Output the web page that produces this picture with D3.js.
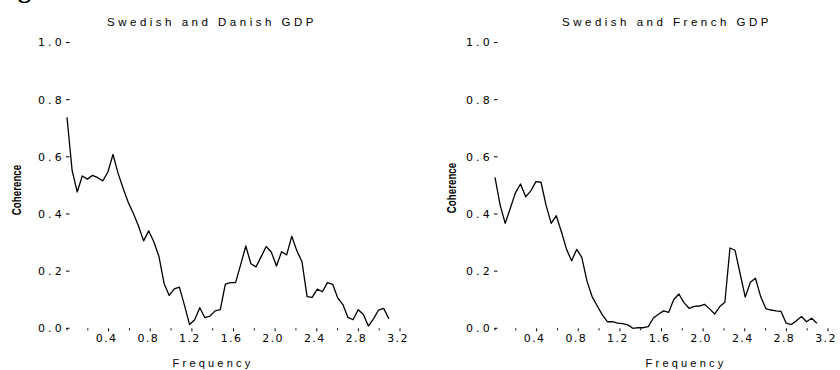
<!DOCTYPE html>
<html>
<head>
<meta charset="utf-8">
<script src="https://cdn.jsdelivr.net/npm/d3@7"></script>
<style>
  html, body { margin: 0; padding: 0; background: #fff; }
  svg { display: block; }
  .ytick-label { font-family: "DejaVu Sans", Verdana, sans-serif; font-size: 11px; letter-spacing: 3.2px; fill: #000; }
  .xtick-label { font-family: "DejaVu Sans", Verdana, sans-serif; font-size: 11px; letter-spacing: 1.4px; fill: #000; }
  .title { font-family: "Liberation Sans", Arial, sans-serif; font-size: 11.5px; letter-spacing: 3.5px; fill: #000; }
  .xlabel { font-family: "Liberation Sans", Arial, sans-serif; font-size: 11px; letter-spacing: 3.2px; fill: #000; }
  .ylabel { font-family: "Liberation Sans", Arial, sans-serif; font-size: 13px; font-weight: bold; fill: #000; }
</style>
</head>
<body>
<svg id="chart" width="840" height="370"></svg>
<script>
// Fourier frequencies (radians) at which the coherence was estimated
const frequencies = [
  0.000, 0.049, 0.098, 0.147, 0.196, 0.245, 0.295, 0.344, 0.393, 0.442,
  0.491, 0.540, 0.589, 0.638, 0.687, 0.736, 0.785, 0.834, 0.884, 0.933,
  0.982, 1.031, 1.080, 1.129, 1.178, 1.227, 1.276, 1.325, 1.374, 1.424,
  1.473, 1.522, 1.571, 1.620, 1.669, 1.718, 1.767, 1.816, 1.865, 1.914,
  1.963, 2.013, 2.062, 2.111, 2.160, 2.209, 2.258, 2.307, 2.356, 2.405,
  2.454, 2.503, 2.553, 2.602, 2.651, 2.700, 2.749, 2.798, 2.847, 2.896,
  2.945, 2.994, 3.043, 3.093
];

// Squared coherence, Swedish vs Danish GDP
const cohDanish = [
  0.738, 0.553, 0.477, 0.533, 0.522, 0.535, 0.527, 0.516, 0.547, 0.608,
  0.542, 0.489, 0.440, 0.402, 0.358, 0.306, 0.341, 0.303, 0.251, 0.157,
  0.115, 0.138, 0.144, 0.080, 0.013, 0.030, 0.072, 0.037, 0.043, 0.061,
  0.065, 0.155, 0.160, 0.160, 0.223, 0.288, 0.226, 0.215, 0.250, 0.286,
  0.267, 0.218, 0.268, 0.257, 0.322, 0.271, 0.233, 0.111, 0.108, 0.137,
  0.128, 0.160, 0.154, 0.106, 0.083, 0.038, 0.030, 0.065, 0.049, 0.008,
  0.033, 0.064, 0.070, 0.033
];

// Squared coherence, Swedish vs French GDP
const cohFrench = [
  0.528, 0.432, 0.367, 0.420, 0.474, 0.505, 0.460, 0.481, 0.513, 0.511,
  0.430, 0.367, 0.394, 0.338, 0.277, 0.236, 0.276, 0.248, 0.165, 0.111,
  0.079, 0.047, 0.023, 0.023, 0.018, 0.016, 0.012, 0.000, 0.002, 0.002,
  0.006, 0.036, 0.049, 0.061, 0.056, 0.101, 0.120, 0.090, 0.070, 0.077,
  0.078, 0.084, 0.068, 0.050, 0.076, 0.091, 0.281, 0.273, 0.190, 0.109,
  0.161, 0.175, 0.111, 0.069, 0.064, 0.061, 0.059, 0.018, 0.013, 0.026,
  0.041, 0.023, 0.035, 0.018
];

const panelTitles = ["Swedish and Danish GDP", "Swedish and French GDP"];
const yTickValues = [0.0, 0.2, 0.4, 0.6, 0.8, 1.0];
const xMinorTicks = [0.2, 0.4, 0.6, 0.8, 1.0, 1.2, 1.4, 1.6, 1.8, 2.0, 2.2, 2.4, 2.6, 2.8, 3.0, 3.2];
const xLabelTicks = [0.4, 0.8, 1.2, 1.6, 2.0, 2.4, 2.8, 3.2];
const xAxisTitle = "Frequency";
const yAxisTitle = "Coherence";

const svg = d3.select("#chart");

// fragment of a heading running off the top edge
svg.append("text")
  .attr("x", 18).attr("y", -2)
  .style("font-family", "'Liberation Serif', serif")
  .style("font-weight", "bold")
  .style("font-size", "26px")
  .text("g");

const panels = [
  { series: cohDanish, title: panelTitles[0], x0: 67, titleX: 212, xTitleX: 213, yTitleX: 16, yTitleY: 190 },
  { series: cohFrench, title: panelTitles[1], x0: 495, titleX: 667, xTitleX: 686, yTitleX: 451, yTitleY: 188 }
];

const yTop = 42.5, yBottom = 328.3;

panels.forEach(p => {
  const g = svg.append("g");
  const x = d3.scaleLinear().domain([0, 3.2]).range([p.x0, p.x0 + 333]);
  const y = d3.scaleLinear().domain([0, 1]).range([yBottom, yTop]);

  // y ticks: short dash, label to the left
  const yt = g.append("g");
  yt.selectAll("line").data(yTickValues).join("line")
    .attr("x1", x(0) - 1).attr("x2", x(0) + 2.5)
    .attr("y1", d => y(d)).attr("y2", d => y(d))
    .attr("stroke", "#000").attr("stroke-width", 1);
  yt.selectAll("text").data(yTickValues).join("text")
    .attr("class", "ytick-label")
    .attr("x", x(0) - 2).attr("y", d => y(d))
    .attr("dy", "0.36em")
    .attr("text-anchor", "end")
    .text(d => d3.format(".1f")(d));

  // x ticks: tiny marks every 0.2, labels every 0.4
  const xt = g.append("g");
  xt.selectAll("line").data([0].concat(xMinorTicks)).join("line")
    .attr("x1", d => x(d)).attr("x2", d => x(d))
    .attr("y1", yBottom).attr("y2", d => xLabelTicks.includes(d) ? yBottom + 3 : yBottom + 2)
    .attr("stroke", "#000").attr("stroke-width", 1);
  xt.selectAll("text").data(xLabelTicks).join("text")
    .attr("class", "xtick-label")
    .attr("x", d => x(d) - 2).attr("y", yBottom + 14)
    .attr("text-anchor", "middle")
    .text(d => d3.format(".1f")(d));

  // coherence curve
  const line = d3.line()
    .x((d, i) => x(frequencies[i]))
    .y(d => y(d));
  g.append("path")
    .datum(p.series)
    .attr("d", line)
    .attr("fill", "none")
    .attr("stroke", "#000")
    .attr("stroke-width", 1.3)
    .attr("stroke-linejoin", "round");

  g.append("text").attr("class", "title")
    .attr("x", p.titleX).attr("y", 26)
    .attr("text-anchor", "middle")
    .text(p.title);

  g.append("text").attr("class", "xlabel")
    .attr("x", p.xTitleX).attr("y", 367)
    .attr("text-anchor", "middle")
    .text(xAxisTitle);

  g.append("text").attr("class", "ylabel")
    .attr("transform", `translate(${p.yTitleX + 5},${p.yTitleY}) rotate(-90) scale(0.75,1)`)
    .attr("text-anchor", "middle")
    .text(yAxisTitle);
});
</script>
</body>
</html>
